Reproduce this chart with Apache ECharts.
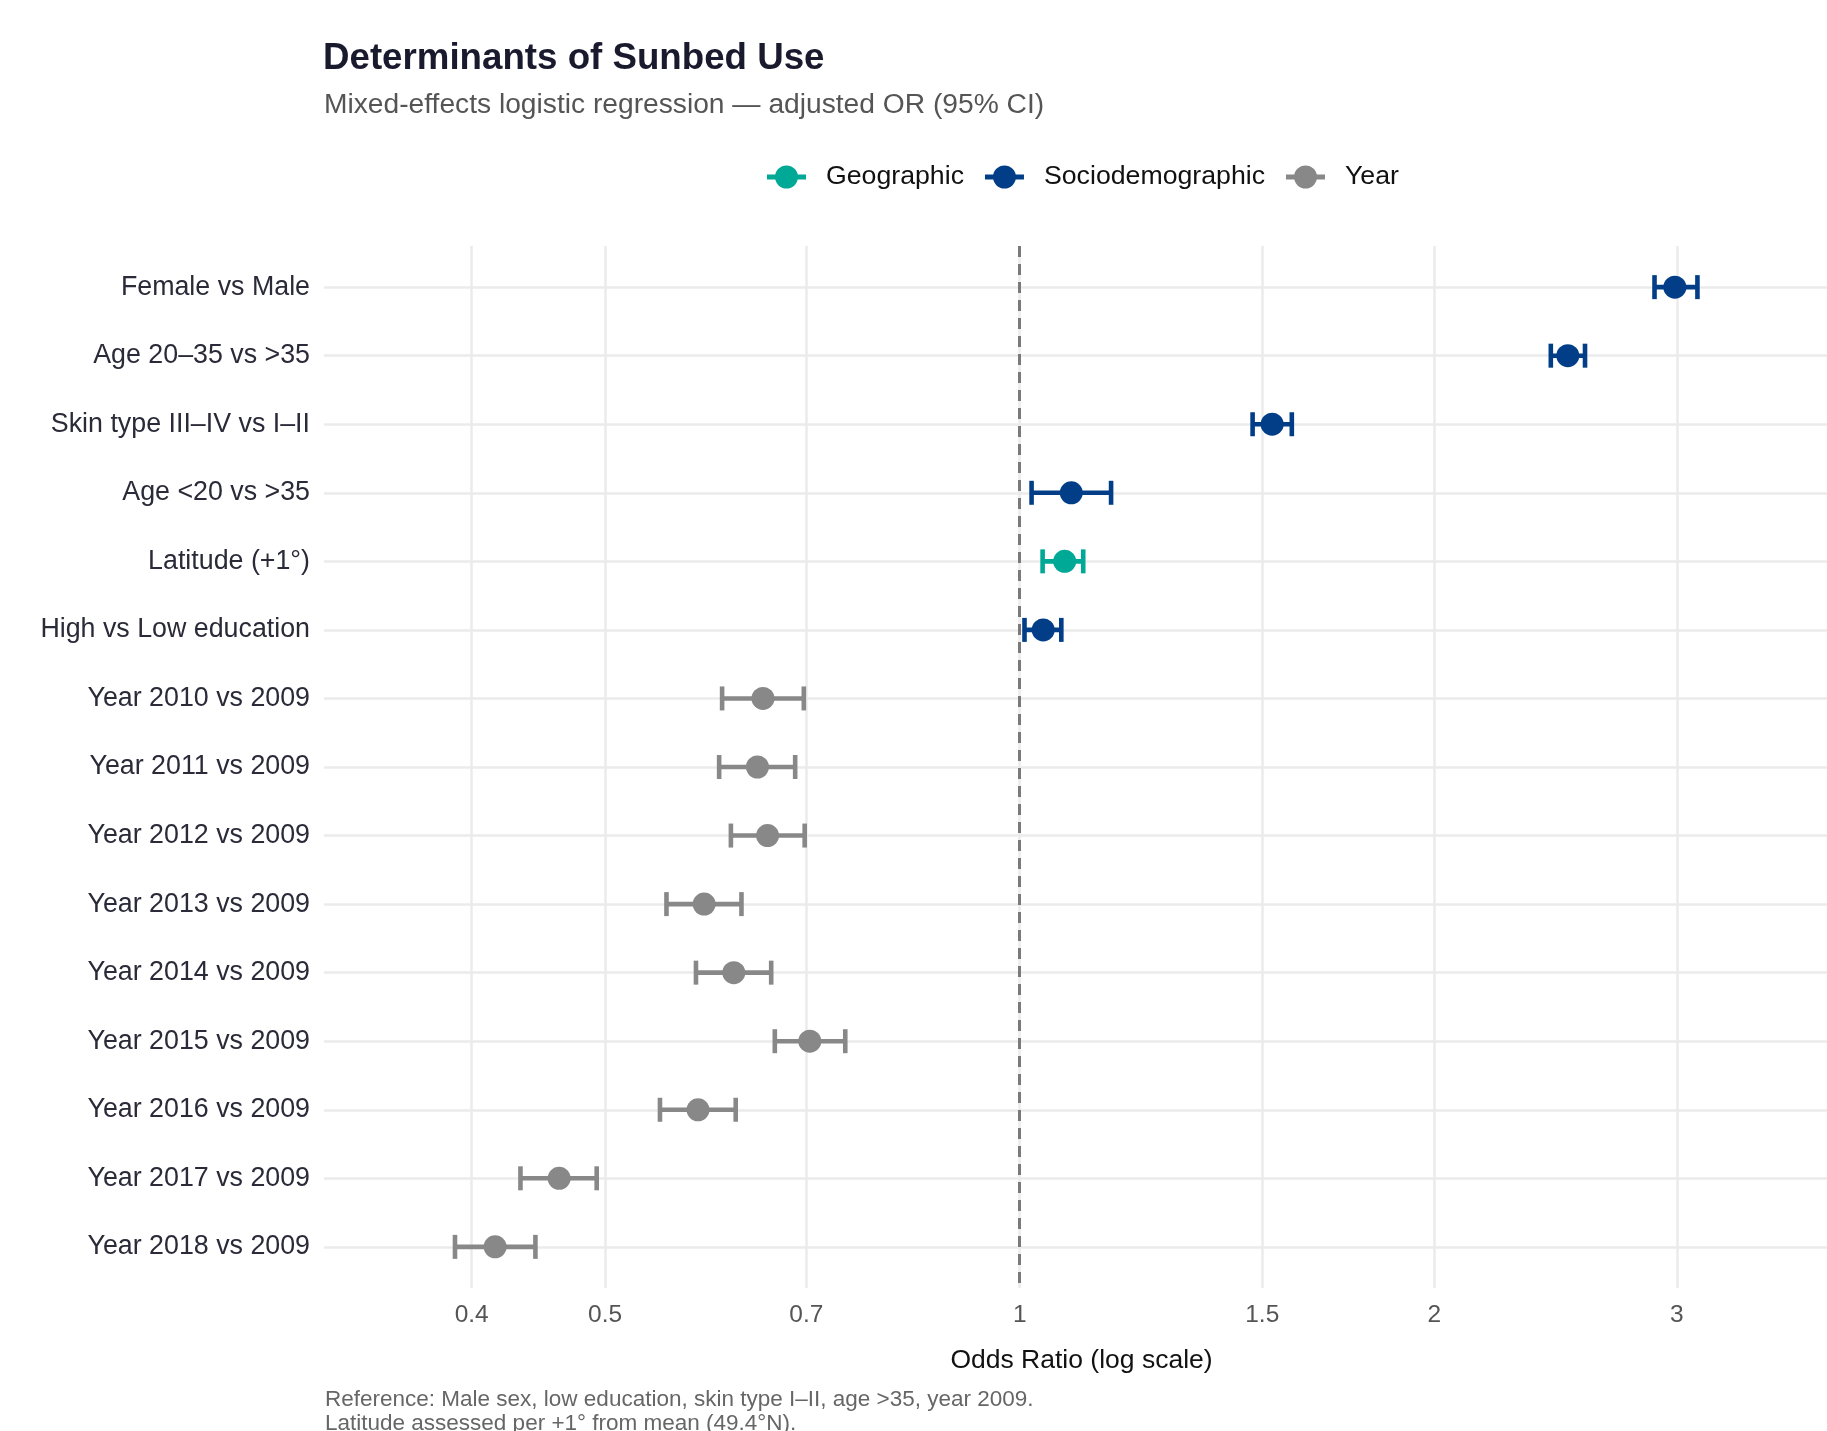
<!DOCTYPE html>
<html><head><meta charset="utf-8">
<script src="https://cdn.jsdelivr.net/npm/echarts@6/dist/echarts.min.js"></script>
<style>html,body{margin:0;padding:0;background:#fff}#c{width:1827px;height:1431px}</style>
</head><body><div id="c"></div>
<script>
const labels = ['Female vs Male','Age 20–35 vs >35','Skin type III–IV vs I–II','Age <20 vs >35','Latitude (+1°)','High vs Low education','Year 2010 vs 2009','Year 2011 vs 2009','Year 2012 vs 2009','Year 2013 vs 2009','Year 2014 vs 2009','Year 2015 vs 2009','Year 2016 vs 2009','Year 2017 vs 2009','Year 2018 vs 2009'];
const groups = ['Sociodemographic','Sociodemographic','Sociodemographic','Sociodemographic','Geographic','Sociodemographic','Year','Year','Year','Year','Year','Year','Year','Year','Year'];
const oddsRatio = [2.99, 2.50, 1.525, 1.09, 1.078, 1.04, 0.651, 0.645, 0.656, 0.590, 0.620, 0.704, 0.584, 0.463, 0.416];
const ciLow = [2.89, 2.43, 1.476, 1.02, 1.039, 1.008, 0.608, 0.605, 0.617, 0.554, 0.582, 0.664, 0.548, 0.434, 0.389];
const ciHigh = [3.105, 2.573, 1.576, 1.165, 1.112, 1.072, 0.697, 0.687, 0.698, 0.628, 0.660, 0.747, 0.622, 0.493, 0.445];
const xTicks = [0.4, 0.5, 0.7, 1, 1.5, 2, 3];
const groupNames = ['Geographic', 'Sociodemographic', 'Year'];
const groupColors = {Geographic: '#00A896', Sociodemographic: '#023E88', Year: '#888888'};
const titleText = 'Determinants of Sunbed Use';
const subtitleText = 'Mixed-effects logistic regression — adjusted OR (95% CI)';
const captionText = 'Reference: Male sex, low education, skin type I–II, age >35, year 2009.\nLatitude assessed per +1° from mean (49.4°N).';
const xAxisTitle = 'Odds Ratio (log scale)';

const FONT = '"Liberation Sans", Arial, Helvetica, sans-serif';
const chart = echarts.init(document.getElementById('c'), null, {renderer: 'canvas'});
const rows = labels.map((_, i) => i);
const legendIcon = 'path://M0,9 L39,9 L39,14 L0,14 Z M8,11.5 A11.5,11.5 0 1 1 31,11.5 A11.5,11.5 0 1 1 8,11.5 Z';

const series = [];
groupNames.forEach((g, gi) => {
  const idx = rows.filter(i => groups[i] === g);
  series.push({
    name: g, type: 'custom', z: 3, silent: true,
    renderItem: (params, api) => {
      const y = api.value(2);
      const p1 = api.coord([api.value(0), y]);
      const p2 = api.coord([api.value(1), y]);
      const h = 12;
      const style = {stroke: groupColors[g], lineWidth: 4.6, fill: null};
      return {type: 'group', children: [
        {type: 'line', shape: {x1: p1[0], y1: p1[1], x2: p2[0], y2: p2[1]}, style},
        {type: 'line', shape: {x1: p1[0], y1: p1[1] - h, x2: p1[0], y2: p1[1] + h}, style},
        {type: 'line', shape: {x1: p2[0], y1: p2[1] - h, x2: p2[0], y2: p2[1] + h}, style}
      ]};
    },
    encode: {x: [0, 1], y: 2},
    data: idx.map(i => [ciLow[i], ciHigh[i], i]),
    itemStyle: {color: groupColors[g]},
    markLine: gi === 0 ? {
      silent: true, symbol: 'none', z: 2,
      label: {show: false},
      lineStyle: {color: '#7a7a7a', width: 3, type: [11, 7]},
      data: [{xAxis: 1}]
    } : undefined
  });
  series.push({
    name: g, type: 'scatter', z: 4, symbol: 'circle', symbolSize: 23, silent: true,
    itemStyle: {color: groupColors[g], opacity: 1},
    data: idx.map(i => [oddsRatio[i], i])
  });
});

chart.setOption({
  animation: false,
  backgroundColor: '#ffffff',
  textStyle: {fontFamily: FONT},
  title: [
    {text: titleText, left: 323, top: 40.5, padding: 0,
     textStyle: {fontFamily: FONT, fontSize: 36.7, fontWeight: 'bold', color: '#1a1a2e'}},
    {text: subtitleText, left: 324, top: 91.5, padding: 0,
     textStyle: {fontFamily: FONT, fontSize: 28.2, fontWeight: 'normal', color: '#555555'}},
    {text: captionText, left: 325, top: 1387.5, padding: 0,
     textStyle: {fontFamily: FONT, fontSize: 22.5, fontWeight: 'normal', color: '#666666', lineHeight: 24.5}}
  ],
  legend: {
    left: 767, top: 163.5, padding: 0,
    itemWidth: 39, itemHeight: 23, itemGap: 21,
    textStyle: {fontFamily: FONT, fontSize: 26.7, color: '#111111', padding: [0, 0, 0, 15]},
    data: groupNames.map(g => ({name: g, icon: legendIcon, itemStyle: {color: groupColors[g]}}))
  },
  grid: {left: 324, right: 0, top: 246, bottom: 143},
  xAxis: {
    type: 'log', logBase: 10, min: 0.3125, max: 3.856,
    name: xAxisTitle, nameLocation: 'middle', nameGap: 59.5,
    nameTextStyle: {fontFamily: FONT, fontSize: 26.5, color: '#111111', padding: [0, 0, 0, 12]},
    axisLine: {show: false},
    axisTick: {show: false, customValues: xTicks},
    axisLabel: {customValues: xTicks, fontFamily: FONT, fontSize: 24.5, color: '#555555', margin: 14.5,
      formatter: v => String(+(+v).toPrecision(6))},
    splitLine: {show: true, lineStyle: {color: '#EBEBEB', width: 2.5}},
    minorSplitLine: {show: false}
  },
  yAxis: {
    type: 'value', min: -0.6, max: 14.6, inverse: true,
    axisLine: {show: false},
    axisTick: {show: false, customValues: rows},
    axisLabel: {customValues: rows, fontFamily: FONT, fontSize: 26.8, color: '#2a2a38', margin: 14,
      padding: [5.6, 0, 0, 0],
      formatter: v => labels[Math.round(v)]},
    splitLine: {show: true, lineStyle: {color: '#EBEBEB', width: 2.5}}
  },
  series
});
</script></body></html>
